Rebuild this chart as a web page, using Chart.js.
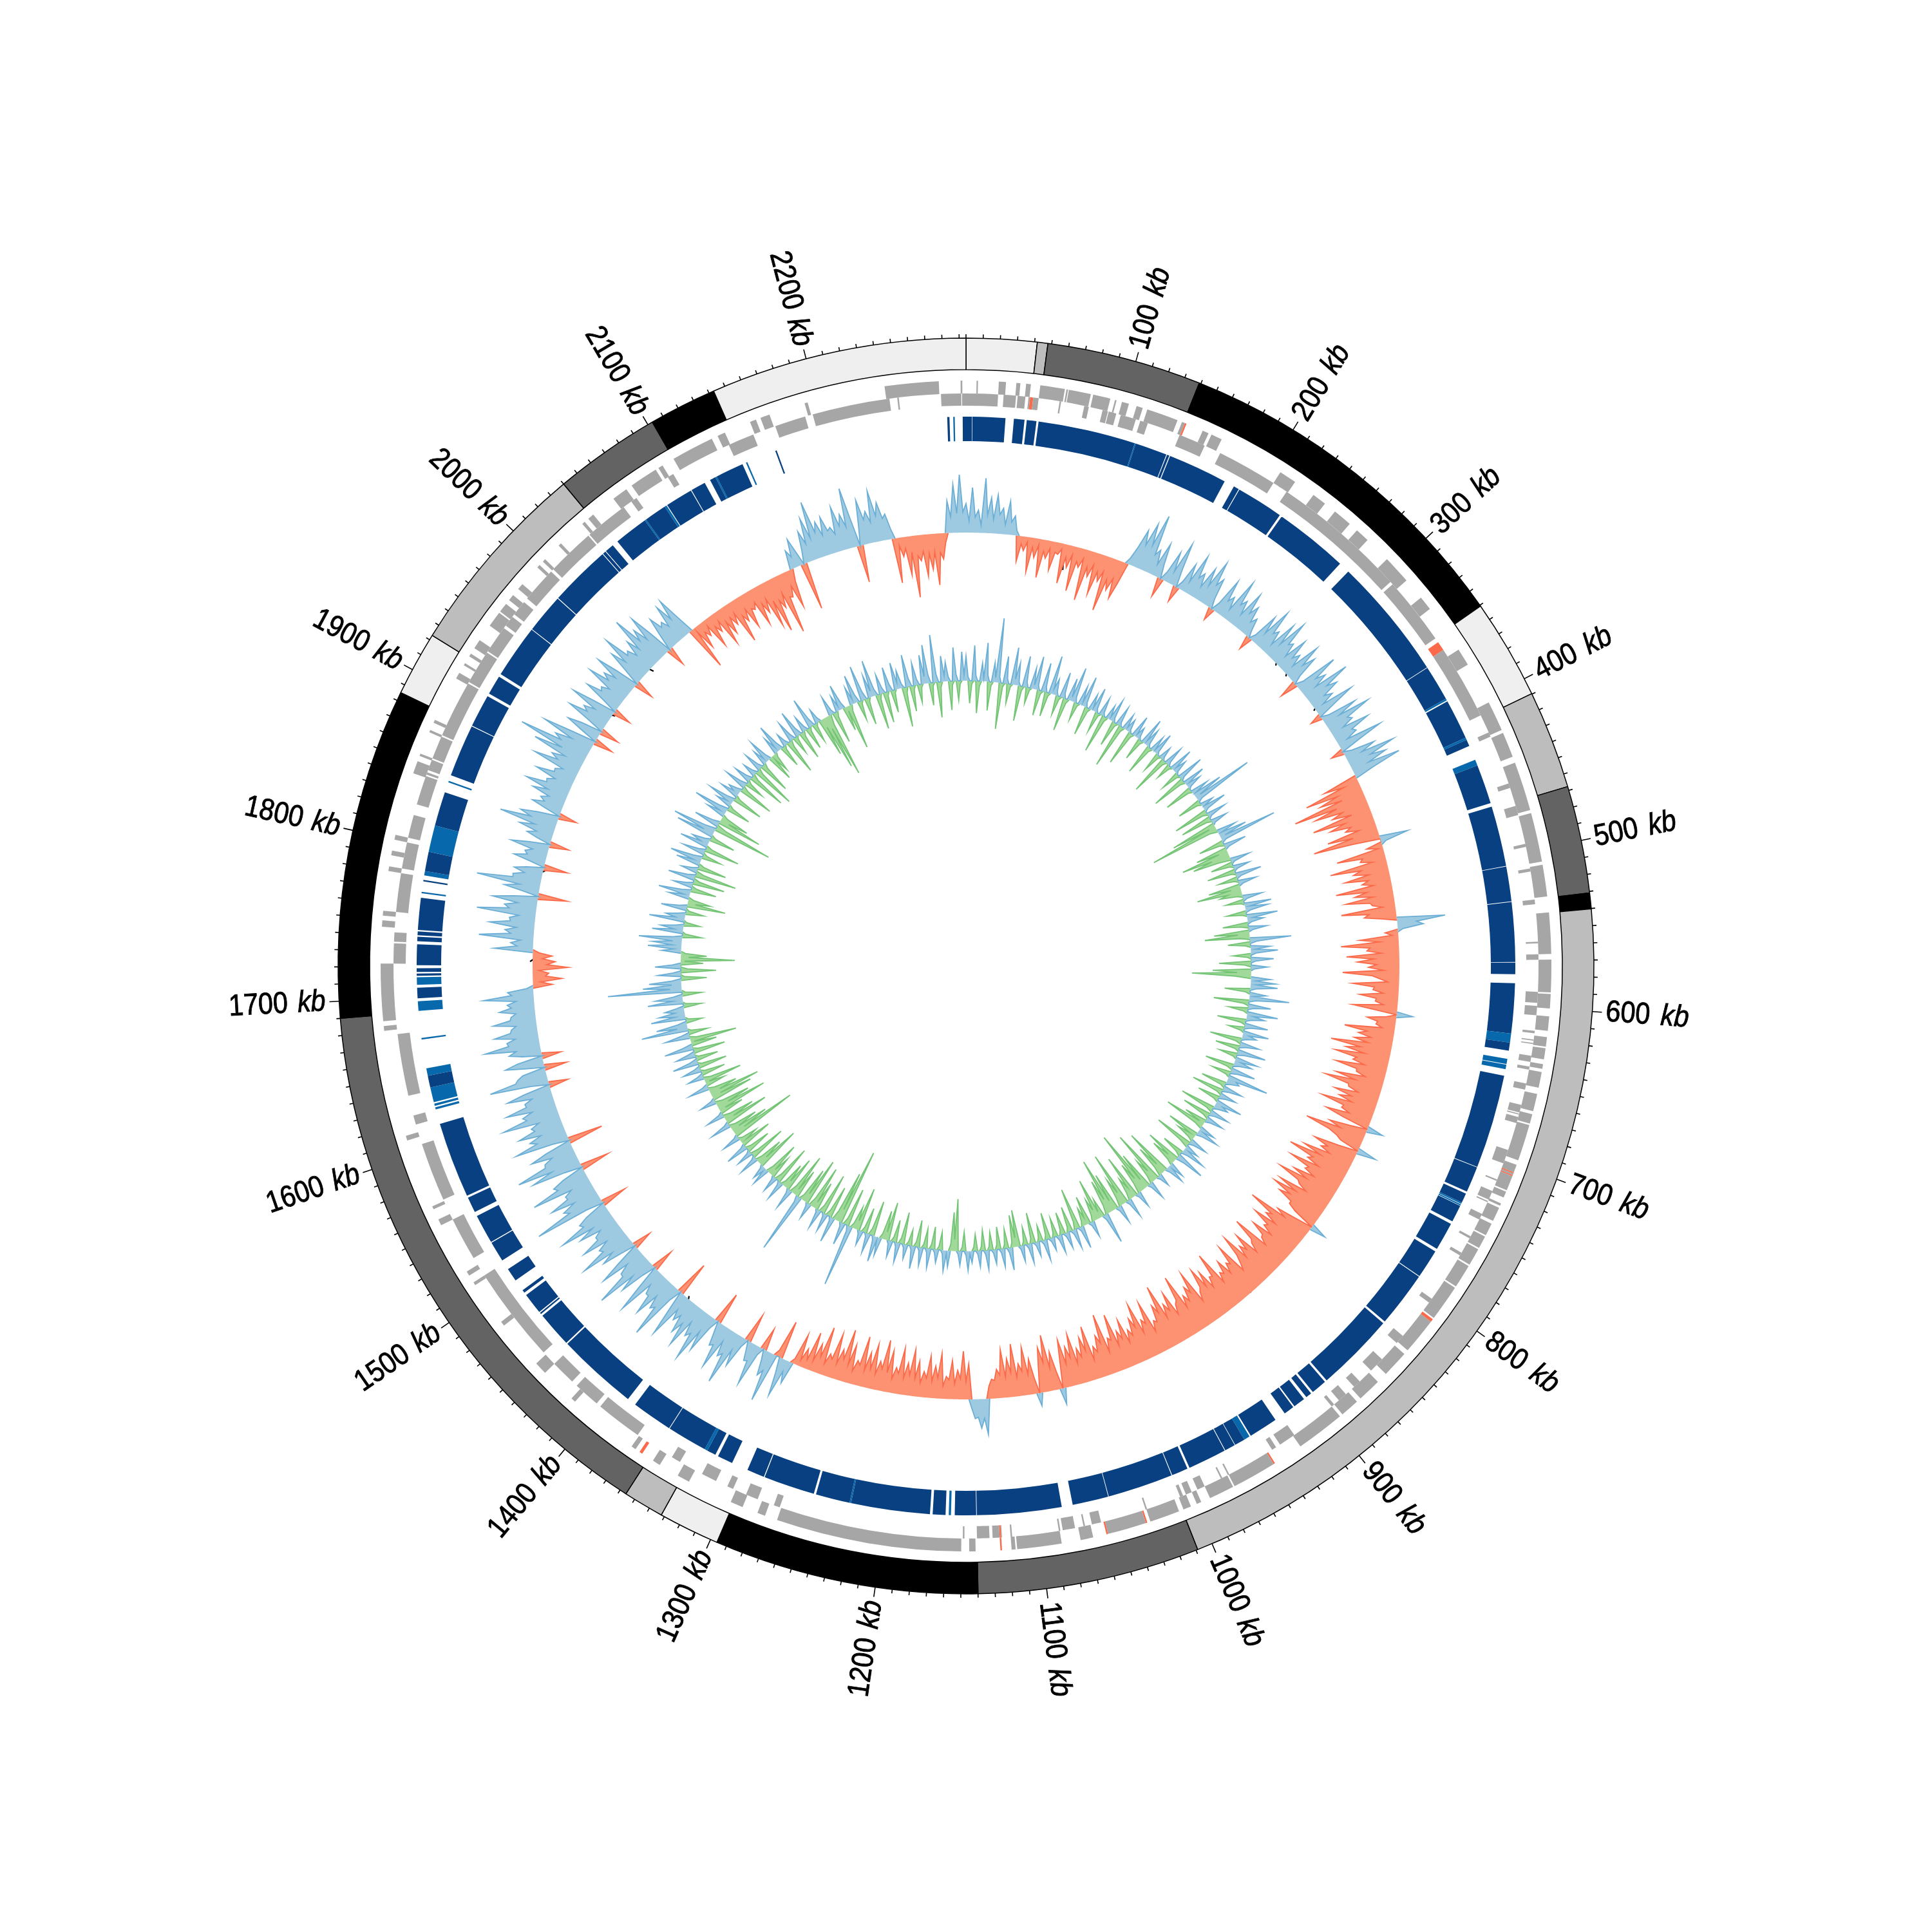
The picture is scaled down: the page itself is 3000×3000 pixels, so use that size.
<!DOCTYPE html>
<html><head><meta charset="utf-8">
<style>html,body{margin:0;padding:0;background:#fff}#wrap{position:relative;width:3000px;height:3000px;background:#fff}canvas{position:absolute;left:0;top:0}</style>
<script src="https://cdn.jsdelivr.net/npm/chart.js@4"></script>
</head><body><div id="wrap"><canvas id="c0" width="3000" height="3000"></canvas><canvas id="c1" width="3000" height="3000"></canvas><canvas id="c2" width="3000" height="3000"></canvas></div>
<script>
const genomeKb = 2294;
const binKb = 2.5;
const majorTicksKb = [100,200,300,400,500,600,700,800,900,1000,1100,1200,1300,1400,1500,1600,1700,1800,1900,2000,2100,2200];
const bandEdgesKb = [0,41.6,47.8,139,350.6,409.7,467.7,530.9,539.7,540.2,1009,1140,1296,1332,1356,1690,1885,1923,2040,2103,2143,2294];
const bandColors = ['#efefef','#bdbdbd','#636363','#000000','#efefef','#bdbdbd','#636363','#000000','#ffffff','#bdbdbd','#636363','#000000','#efefef','#bdbdbd','#636363','#000000','#efefef','#bdbdbd','#636363','#000000','#efefef'];
const genesOuter = [[6.6,7.5],[20.5,25],[31.5,34],[37.6,40.6],[46.5,62],[63,64],[64.5,78.5],[80,91],[94,95],[98.5,103],[108,112],[115,135],[138,141],[152,156],[158,165],[207,218],[232,241],[249,261],[267,276],[293,311],[325,334],[365,376],[403,422],[424,440],[444,475],[477,497],[497,503],[503,508],[510,530],[540,566],[569.5,590],[591,600],[605,614],[618,624],[625,632],[635,638],[640,650],[654,665],[667,673],[674,697],[700,717],[718,722],[726,727.5],[729,738],[740,748],[749,757],[758,769],[770,785],[786,809],[812,835],[838,855],[862,877],[880,892],[894,925],[944,946],[946,973],[974,990],[996,999],[1003,1008],[1011,1030],[1032,1058],[1067,1075],[1087,1115],[1116,1118.5],[1124.5,1125.5],[1141,1145],[1150,1267],[1275,1280],[1290,1298],[1327,1335],[1348,1353],[1366,1369],[1414,1417],[1440,1448],[1479,1482],[1510,1512],[1517,1520],[1553,1557],[1564,1566],[1610,1613],[1680,1683],[1686,1722],[1745,1749],[1752,1755],[1780,1783],[1790,1793],[1800,1803],[1843,1851],[1854.5,1856],[1870.5,1872],[1877,1879],[1908,1912],[1917.5,1919],[1924,1926],[1930,1936],[1947,1957],[1958,1964],[1967,1971],[1976,1980],[1994,1996],[1999,2001],[2013,2015],[2033,2035],[2038,2042],[2058,2068],[2072,2090],[2092,2095],[2103,2130],[2134,2139],[2156,2160],[2163,2169],[2192,2194],[2243,2262],[2262,2277],[2290.6,2291.7]];
const genesInner = [[0,20.5],[24,32],[33,38],[40,46.5],[60,61],[76,79],[88,91.5],[92,94],[94,97],[100,104],[104,110],[113,118],[139.6,157],[168,207],[217,236],[236,255],[255,268],[268,292],[292,305],[307,321],[321,333],[333,351],[354,366],[366,374],[374,408],[420,423],[455,458],[470,476],[495,497],[511,513],[531,534],[558,559],[566,569.5],[590,597],[599,605],[615,616.5],[620.5,621.3],[622.7,623.4],[631,635],[638,640],[649,653],[663,668],[668.7,669.4],[671,675],[693,702],[713,714],[721,727],[728,728.8],[737,741],[753,754.5],[765,767],[800,803],[830,836],[850,860],[870,875],[882,888],[892,894],[924,935],[938,941],[972.5,973.5],[977.5,978.5],[990,995],[999,1003],[1005,1007],[1029.5,1030.5],[1060,1066],[1070.5,1071.5],[1077,1085],[1086.5,1087.5],[1117.5,1118.5],[1124,1130],[1132,1140],[1148,1149],[1268,1272],[1283,1291],[1300,1304],[1312,1322],[1338,1344],[1370,1382],[1382,1400],[1403,1420],[1424,1440],[1450,1480],[1480,1512],[1525,1553],[1567,1605],[1618,1624],[1637,1677],[1722,1735],[1736,1742],[1755,1760],[1760,1780],[1783,1800],[1803,1818],[1825,1838],[1838,1844],[1845,1846.5],[1848,1855],[1856,1871],[1872,1877],[1877,1909],[1910,1915],[1915,1922],[1922,1932],[1933,1951],[1953,1960],[1962,1972],[1975,1998],[2000,2012],[2012,2031],[2032,2038],[2037,2060],[2066,2070],[2094,2098],[2138,2155],[2170,2190],[2195,2245],[2250,2251],[2278,2291],[2291.5,2294]];
const rnaOuter = [[140,141],[705,705.7],[706.8,707.5],[810,812],[944,945],[1032,1033],[1057.5,1058.5],[1124.5,1125.5],[1361,1363]];
const rnaInner = [[41,43],[354,360],[1124.5,1125.5]];
const blocksDark = [[2291.8,2294],[0,4],[4.3,26.3],[31.9,39],[40.5,47],[48.4,114],[114.7,136.3],[136.8,138.4],[139,179],[186,189.7],[190.2,222],[223.5,273.5],[281,363.6],[364,388],[390,417],[418.5,423],[437,463.6],[466,506.6],[507,530.4],[530.8,570.8],[571.2,579],[585,618.6],[624.6,630],[647,710.2],[710.6,728],[729.5,736],[738.5,750],[752,771],[773,792.5],[793,830.5],[832,885.5],[887,897.5],[899,903],[905,913],[914,921],[928.5,948],[953,960],[960.4,967.5],[968,994],[995.5,1006.5],[1007,1051],[1051.4,1075.6],[1083,1139.8],[1140.2,1154.5],[1160.6,1169.2],[1171,1224],[1225,1248],[1249.5,1284],[1284.6,1296.4],[1307.6,1318],[1320,1326],[1328,1355],[1355.5,1383],[1389,1443.5],[1444.5,1468.5],[1470,1471],[1471.8,1486],[1488,1490],[1498,1507],[1514,1527.7],[1528.3,1548],[1551,1561.5],[1563,1614],[1639,1647],[1699,1706],[1714,1715.5],[1716.5,1719],[1721,1735],[1737,1740],[1741,1743.5],[1744.5,1766],[1777,1778],[1784,1797],[1815,1838],[1850,1885.3],[1885.8,1908],[1910,1923],[1925,1961],[1961.5,1988],[1988.5,2030],[2030.5,2032.5],[2033,2039],[2043,2066],[2067,2082],[2084,2102.5],[2103,2113],[2117,2121],[2122,2141],[2164.5,2165.5],[2281.5,2283]];
const blocksLight = [[114,114.7],[388,389.2],[417,418.5],[433,437],[618.6,624.6],[635.5,639],[639.5,642.5],[736,737],[737.3,738.2],[949,953],[1157,1158.5],[1224,1225],[1326,1328],[1624,1625.5],[1626.5,1628],[1629,1639],[1647,1652],[1671.5,1672.5],[1690.6,1697],[1708,1713],[1769,1770],[1781,1784],[1797,1815],[1845,1846],[2066,2067],[2082,2083.5],[2121,2122],[2143.5,2144.5],[2285.5,2286.5]];
// values every 2.5 kb; blue outward (+), red inward (-)
const skewOuter = [
45,18,70,24,35,12,85,28,55,22,60,30,40,15,52,20,30,8,-40,-12,-22,-8,-54,-15,-30,-10,-60,-18,-28,-12,-45,-16,-18,-9,-62,-20,-35,-14,-70,-22,
-30,-15,-80,-26,-40,-20,-65,-28,-42,-25,-86,-35,-50,-30,-60,-35,10,30,60,38,75,42,93,30,40,18,55,22,-30,14,50,20,70,28,-25,12,45,18,65,30,
40,20,55,28,72,35,48,15,-20,14,58,25,35,16,70,32,42,20,62,30,45,20,30,12,-22,10,50,22,68,30,38,16,60,26,72,34,40,18,55,24,
35,16,62,28,48,14,-28,12,70,30,45,22,78,36,52,24,36,15,65,30,-18,12,58,26,75,34,40,20,62,30,35,16,72,32,-20,14,50,26,78,36,
60,28,78,30,-55,-25,-90,-40,-70,-35,-116,-48,-85,-42,-60,-30,-95,-45,-70,-38,-48,-28,-80,-40,-105,-44,44,8,-25,-8,-75,-35,-40,-22,-90,-42,-55,-32,-70,-34,
-45,-28,-88,-40,-60,-32,-75,-38,-35,-20,-85,-42,-50,-24,75,30,40,8,-20,-10,-60,-30,-90,-45,-50,-28,-82,-40,-65,-35,-48,-25,-88,-42,-30,-18,-72,-38,-40,-24,
-60,-34,-35,-22,-70,-36,25,-15,-45,-28,-30,-20,-78,-42,-55,-35,-60,-38,-95,-48,-70,-40,-85,-50,-55,-36,-80,-46,-45,-30,-75,-44,-90,-52,-50,-34,-70,-42,-60,-38,
-85,-48,-50,-36,-72,-44,25,-28,-60,-40,-95,-55,-40,-32,30,-30,-70,-46,-55,-38,-80,-50,-100,-58,-65,-44,-90,-56,-60,-42,-75,-50,-95,-60,-55,-40,-85,-54,-90,-58,
-75,-50,-50,-36,25,-30,-60,-44,-104,-62,-70,-48,-85,-56,-60,-42,-75,-52,-50,-38,-95,-60,-55,-40,-80,-54,-65,-46,-90,-58,-45,-34,-85,-55,-60,-44,-70,-50,-55,-40,
-95,-58,-60,-44,-75,-52,-85,-56,-50,-36,-90,-58,-70,-48,-60,-42,-98,-60,-55,-40,-80,-52,-65,-44,-100,-58,-72,-46,-50,-34,-85,-52,-60,-40,-90,-54,-70,-44,-55,-36,
-75,-46,-60,-38,-90,-50,-55,-34,-96,-52,-65,-40,-50,-30,-85,-48,-70,-40,-55,-32,-80,-44,-62,-36,-75,-40,25,-28,-60,-36,-88,-46,-70,-38,20,-24,-55,-32,-75,-38,
-50,-30,-82,-38,-60,-32,-75,-36,-45,-28,-30,-20,55,30,45,28,30,15,-55,-28,-75,-32,-45,-24,-60,-30,-35,-20,-70,-32,-50,-26,-65,-30,-40,-22,-55,-28,-72,-32,
-50,-26,-72,-32,-40,-22,-65,-30,-80,-34,-45,-24,-70,-30,-55,-26,-78,-32,-38,-20,-60,-28,-82,-34,-48,-24,-70,-28,-35,-18,-75,-26,-45,-16,-60,-14,-30,-10,-50,-8,
35,18,60,24,-60,-10,78,30,40,16,-35,12,65,28,30,14,-45,14,50,26,85,38,45,22,70,34,38,18,-50,16,60,30,82,40,48,26,72,36,55,28,
40,24,75,36,-55,20,92,44,50,30,68,38,38,24,80,40,-35,22,60,34,95,46,45,28,72,38,-30,24,55,34,85,44,48,30,70,40,40,28,62,36,
88,46,50,34,-40,28,112,52,60,38,75,44,45,32,95,50,55,36,-45,28,80,46,100,52,50,36,68,42,-55,26,85,48,58,38,72,44,48,34,90,50,
55,38,78,44,45,32,70,42,-30,28,92,50,45,36,-35,30,60,40,-30,30,50,38,86,48,50,36,68,42,40,32,67,40,38,30,55,36,42,28,78,34,
40,10,-30,-12,-45,-20,-25,-10,-55,-22,-35,-15,-30,-10,60,25,35,20,85,36,45,28,70,38,40,26,92,42,50,30,70,38,-45,24,55,32,100,44,45,28,
45,26,-37,22,50,30,35,24,60,34,-30,22,40,26,55,32,90,42,60,34,-28,24,48,30,38,26,55,32,70,38,40,28,62,34,35,24,75,38,50,30,
85,40,114,48,60,34,85,42,-30,28,55,34,-30,28,65,36,45,28,72,38,-28,26,60,36,40,28,70,38,50,32,70,38,-30,28,60,36,80,40,45,30,
55,34,88,42,60,36,75,40,-30,28,55,34,40,28,62,34,66,30,-70,-8,-40,-15,-25,-10,-50,-18,-30,-14,-58,-22,-45,-20,-35,-18,-70,-28,-40,-22,-55,-26,
-30,-20,-60,-28,-45,-24,-72,-32,-85,-36,-50,-28,-95,-38,-40,-24,-60,-20,30,18,45,22,-74,20,50,28,68,34,91,40,55,32,60,36,40,28,70,38,55,34,
94,42,-58,30,70,38,50,32,80,40,60,34,40,16,-70,-12,-30,-18,-60,-25,-96,-32,-40,-26,-65,-30,-55,-28,-80,-30,-40,-15,50,25,75,30,90,32];
// values every 2.5 kb; blue outward (+), green inward (-)
const skewInner = [
38,6,-35,-5,55,8,-50,-8,28,5,60,10,-45,-6,30,7,100,9,-72,-6,42,8,-30,-4,58,9,35,6,-55,-7,48,8,-25,-4,32,6,52,7,-40,-5,
45,8,-38,-5,60,9,25,6,-30,-5,40,7,-52,-7,35,6,55,8,-28,-4,30,6,48,7,-45,-6,25,5,38,6,-32,-4,28,5,-60,-7,22,5,35,6,
-40,-5,30,5,-70,-7,25,5,20,4,-55,-6,34,5,18,4,-35,-5,42,6,28,5,-48,-6,25,4,35,5,-30,-4,20,4,-62,-7,30,5,-25,-4,38,6,
22,4,-30,-4,42,6,-55,-7,35,6,24,4,-45,-6,28,5,48,8,96,7,-38,-6,20,4,38,6,-55,-8,30,5,-50,-8,25,4,-72,-10,-110,-12,30,6,
45,8,91,7,-40,-8,35,6,-50,-14,-76,-28,-60,-20,30,5,-35,-6,25,5,-45,-6,40,7,-30,-6,28,6,-50,-15,-70,-22,-35,-8,30,6,-28,-5,42,8,
35,8,-30,-7,48,9,25,6,-40,-12,28,6,-55,-18,-70,-14,64,10,-35,-8,30,7,42,8,-28,-6,35,7,-50,-10,25,5,-60,-22,-92,-24,30,8,38,9,
42,9,-40,-7,25,6,62,10,-55,-8,35,8,-30,-6,48,10,28,8,-45,-7,36,9,-25,-5,40,10,22,7,-50,-8,30,9,-38,-6,44,12,-28,-5,35,10,
28,9,-45,-8,38,11,-30,-6,64,14,20,8,-40,-7,30,10,-50,-8,26,9,-35,-7,42,12,22,8,-55,-10,30,9,-45,-9,28,8,-35,-8,-65,-12,25,8,
35,10,-50,-10,-30,-8,28,8,-60,-14,22,7,38,10,-35,-8,46,12,-55,-14,-42,-10,25,7,30,8,-75,-16,-50,-14,20,5,-85,-18,-40,-12,28,6,-60,-15,
-101,-22,-50,-16,25,5,-70,-18,-35,-12,30,6,-85,-20,-45,-14,28,6,-60,-16,-88,-22,-55,-14,48,8,-30,-10,-65,-16,-35,-10,25,5,-45,-12,-28,-8,35,6,
-65,-12,30,6,-40,-8,25,6,-35,-8,28,6,-30,-7,20,5,-42,-8,32,6,-25,-6,22,5,-48,-8,30,6,-28,-6,25,5,-57,-14,-50,-8,35,7,-30,-6,
28,6,-35,-7,22,5,-28,-6,30,6,-32,-7,25,5,-26,-6,18,5,30,6,-30,-6,22,5,-81,-18,-60,-10,25,5,32,6,-28,-6,20,5,-35,-7,30,6,
-30,-6,28,5,-42,-8,35,6,-25,-6,22,5,-50,-9,30,6,-35,-7,25,5,-60,-12,-45,-8,28,5,40,7,-55,-10,30,5,-40,-8,22,5,-68,-14,-35,-7,
97,8,-60,-10,35,6,-119,-20,-80,-14,40,6,-50,-10,28,5,-65,-12,30,5,-45,-10,-68,-14,25,5,-75,-14,-55,-8,95,10,-45,-10,-68,-12,32,6,-55,-12,
-40,-8,30,6,-62,-12,25,5,-35,-10,-55,-12,28,6,22,5,-70,-14,-45,-10,30,6,-58,-12,25,5,-40,-8,35,7,-50,-10,-30,-6,28,6,-104,-18,-60,-12,
-45,-10,32,7,-70,-14,-50,-12,28,6,-38,-10,-80,-18,-55,-12,25,6,-65,-14,-80,-16,-45,-10,32,8,-30,-6,-60,-10,25,8,-38,-6,28,9,-45,-6,40,12,
-35,-5,30,12,-50,-8,45,15,-40,-5,-73,-10,38,14,-30,-5,73,16,48,14,-25,-4,54,16,40,15,30,12,-28,-4,55,16,42,14,-30,-5,115,18,60,15,
50,14,-40,-6,35,12,-55,-10,40,13,-35,-6,-84,-12,-40,-7,30,12,52,15,45,14,67,16,-30,-5,48,14,35,12,-25,-4,55,15,30,12,-28,-5,40,12,
-60,-12,-35,-8,32,10,50,14,-40,-8,30,10,-50,-9,42,13,-65,-12,25,8,-45,-8,38,12,50,14,-30,-6,35,11,-55,-10,45,13,28,9,-40,-7,60,16,
69,18,-93,-16,40,12,-70,-14,-45,-8,30,10,55,15,-38,-7,25,9,42,13,-48,-8,30,10,20,8,-55,-10,35,11,-30,-6,28,9,-60,-10,22,7,-68,-10,
30,8,-50,-8,25,7,38,10,-42,-7,-30,-6,28,8,45,12,-35,-6,20,6,-55,-10,32,9,-28,-5,42,11,-45,-8,25,7,-35,-6,48,12,-30,-5,22,6,
-60,-14,-85,-20,-100,-16,30,7,-50,-8,25,7,40,10,-38,-7,-70,-10,28,7,45,12,-30,-5,55,12,-42,-6,35,9,57,10,-55,-8,30,8,-48,-7,38,10,
-35,-5,42,10,28,7,-62,-9,50,12,-40,-6,35,9,-28,-5,45,11,60,12,-35,-5,74,12,-55,-8,40,9,30,7,-45,-6,52,10,-30,-5,45,9];
const blackMarkKb = [85,289,302,340,710,841,860,885,1090,1232,1400,1724,1799,1946,1995];
const blackMarkFrom = [-14,4,4,8,-2,-2,-2,0,-2,-4,4,4,4,6,10];
const blackMarkTo = [-40,-3,-3,-3,-10,-14,-24,-8,-10,-14,-4,-3,-3,-4,-6];

function ringFrom(layers){
  const cuts = new Set([0,genomeKb]);
  layers.forEach(l=>l.blocks.forEach(b=>{cuts.add(b[0]);cuts.add(b[1]);}));
  const edges=[...cuts].sort((a,b)=>a-b), data=[], backgroundColor=[];
  for(let i=0;i<edges.length-1;i++){
    const a=edges[i], b=edges[i+1]; let col='rgba(255,255,255,0)';
    layers.forEach(l=>{ if(l.blocks.some(x=>x[0]<=a&&x[1]>=b)) col=l.color; });
    if(data.length && backgroundColor[backgroundColor.length-1]===col) data[data.length-1]+=b-a;
    else {data.push(b-a);backgroundColor.push(col);}
  }
  return {data,backgroundColor,borderWidth:0};
}
const spacer = w=>({data:[1],backgroundColor:['rgba(255,255,255,0)'],borderWidth:0,weight:w});
const tickPlugin={id:'ticks',afterDraw(chart){
  const ctx=chart.ctx, arc=chart.getDatasetMeta(0).data[0], cx=arc.x, cy=arc.y, R=arc.outerRadius;
  ctx.save(); ctx.strokeStyle='#000'; ctx.fillStyle='#000'; ctx.lineWidth=1.6;
  for(let kb=0;kb<genomeKb;kb+=10){
    const t=kb/genomeKb*2*Math.PI, s=Math.sin(t), c=-Math.cos(t), len=(kb%100===0&&kb>0)?15:6;
    ctx.beginPath(); ctx.moveTo(cx+R*s,cy+R*c); ctx.lineTo(cx+(R+len)*s,cy+(R+len)*c); ctx.stroke();
  }
  majorTicksKb.forEach(kb=>{
    const t=kb/genomeKb*2*Math.PI, rr=R+21, right=t<Math.PI;
    ctx.save(); ctx.translate(cx+rr*Math.sin(t),cy-rr*Math.cos(t));
    ctx.rotate(right?t-Math.PI/2:t+Math.PI/2); ctx.scale(0.88,1); ctx.textBaseline='middle'; ctx.textAlign='left'; ctx.lineWidth=0.9;
    const num=String(kb);
    ctx.font='47px "Liberation Sans"'; const w1=ctx.measureText(num+'  ').width*0.93;
    ctx.font='italic 47px "Liberation Sans"'; const w2=ctx.measureText('kb').width;
    const x0=right?0:-(w1+w2);
    ctx.font='47px "Liberation Sans"'; ctx.fillText(num,x0,0); ctx.strokeText(num,x0,0);
    ctx.font='italic 47px "Liberation Sans"'; ctx.fillText('kb',x0+w1,0); ctx.strokeText('kb',x0+w1,0);
    ctx.restore();
  });
  ctx.restore();
}};
new Chart(document.getElementById('c0'),{type:'doughnut',plugins:[tickPlugin],data:{labels:bandColors.map((_,i)=>'band '+i),datasets:[
  {data:bandColors.map((_,i)=>bandEdgesKb[i+1]-bandEdgesKb[i]),backgroundColor:bandColors,borderColor:'#000',borderWidth:1.5,weight:49},
  spacer(17),
  {...ringFrom([{blocks:genesOuter,color:'#a6a6a6'},{blocks:rnaOuter,color:'#fb6a4a'}]),weight:20},
  {...ringFrom([{blocks:genesInner,color:'#a6a6a6'},{blocks:rnaInner,color:'#fb6a4a'}]),weight:19},
  spacer(17),
  {...ringFrom([{blocks:blocksDark,color:'#084081'},{blocks:blocksLight,color:'#0868ac'}]),weight:38}
]},options:{responsive:false,animation:false,radius:975,cutout:(815/975*100)+'%',plugins:{legend:{display:false},tooltip:{enabled:false}}}});

function keepSign(values,sign){
  return values.map((v,i)=>{
    if(sign*v>0) return v;
    const n=values.length, a=values[(i-1+n)%n], b=values[(i+1)%n];
    return (sign*a>0||sign*b>0)?0:null;
  });
}
function track(id,values,base,posFill,posLine,negFill,negLine,extra){
  const labels=values.map((_,i)=>i*binKb);
  const sets=[
    {data:keepSign(values,1),backgroundColor:posFill,borderColor:posLine,borderWidth:1.8,fill:{value:0},pointRadius:0,tension:0,spanGaps:false},
    {data:keepSign(values,-1),backgroundColor:negFill,borderColor:negLine,borderWidth:1.8,fill:{value:0},pointRadius:0,tension:0,spanGaps:false}
  ];
  if(extra) sets.push(extra(values.length));
  new Chart(document.getElementById(id),{type:'radar',data:{labels,datasets:sets},options:{responsive:false,animation:false,plugins:{legend:{display:false},tooltip:{enabled:false}},
    scales:{r:{min:-base,max:1500-base,grid:{display:false},angleLines:{display:false},pointLabels:{display:false},ticks:{display:false}}}}});
}
function blackMarks(n){
  const data=new Array(n).fill(null);
  blackMarkKb.forEach((kb,k)=>{const i=Math.round(kb/binKb); data[i]=blackMarkFrom[k]; data[i+1]=blackMarkTo[k];});
  return {data,borderColor:'#000',borderWidth:2.2,fill:false,pointRadius:0,tension:0,spanGaps:false};
}
track('c1',skewOuter,673,'rgb(158,202,225)','rgb(107,174,214)','rgb(252,146,114)','rgb(251,106,74)',blackMarks);
track('c2',skewInner,443,'rgb(158,202,225)','rgb(107,174,214)','rgb(161,217,155)','rgb(116,196,118)');
</script></body></html>
